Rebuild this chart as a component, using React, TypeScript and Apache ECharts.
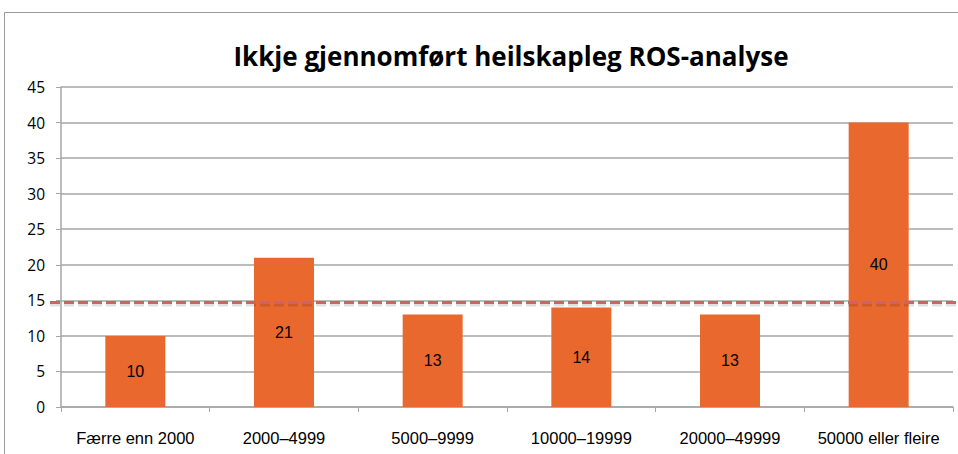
import React, { useEffect, useRef } from "react";
import * as echarts from "echarts";

const categories = ["Færre enn 2000", "2000–4999", "5000–9999", "10000–19999", "20000–49999", "50000 eller fleire"];
const values = [10, 21, 13, 14, 13, 40];
const referenceValue = 14.7;
const titleText = "Ikkje gjennomført heilskapleg ROS-analyse";

export default function App() {
  const ref = useRef<HTMLDivElement>(null);
  useEffect(() => {
    if (!ref.current) return;
    const chart = echarts.init(ref.current, null, { renderer: "svg" });
    chart.setOption({
      animation: false,
      backgroundColor: "#ffffff",
      title: {
        text: titleText,
        left: 506,
        top: 38,
        textAlign: "center",
        textStyle: { fontFamily: "Open Sans", fontWeight: "bold", fontSize: 26, color: "#000" },
      },
      grid: { left: 61, right: 5, top: 87, bottom: 47, containLabel: false },
      xAxis: {
        type: "category",
        data: categories,
        boundaryGap: true,
        axisLine: { lineStyle: { color: "#a6a6a6", width: 1.5 } },
        axisTick: { show: true, length: 5, lineStyle: { color: "#a6a6a6" } },
        axisLabel: { color: "#000", fontSize: 16.5, fontFamily: "Liberation Sans", margin: 22, interval: 0 },
      },
      yAxis: {
        type: "value",
        min: 0,
        max: 45,
        interval: 5,
        axisLine: { show: true, lineStyle: { color: "#a6a6a6", width: 1.5 } },
        axisTick: { show: true, length: 5, lineStyle: { color: "#a6a6a6" } },
        axisLabel: { color: "#000", fontSize: 15.5, fontFamily: "Open Sans", margin: 16 },
        splitLine: { lineStyle: { color: "#a6a6a6", width: 1.5 } },
      },
      series: [
        {
          type: "bar",
          data: values,
          barWidth: 60,
          itemStyle: { color: "#E8682E" },
          label: { show: true, position: "inside", color: "#000", fontSize: 16, fontFamily: "Liberation Sans" },
        },
      ],
    });
    const pt = chart.convertToPixel({ gridIndex: 0 }, [0, referenceValue]) as number[];
    const y = Array.isArray(pt) ? pt[1] : (pt as unknown as number);
    chart.setOption({
      graphic: {
        elements: [
          {
            id: "frame",
            type: "rect",
            shape: { x: 4.5, y: 12.5, width: 1200, height: 1200 },
            style: { fill: "none", stroke: "#9a9a9a", lineWidth: 1 },
            z: 1,
            silent: true,
          },
          {
            id: "refShadow",
            type: "line",
            shape: { x1: 50, y1: y + 2, x2: 958, y2: y + 2 },
            style: { stroke: "rgba(0,0,0,0.12)", lineWidth: 4, lineDash: [10, 4] },
            z: 99,
            silent: true,
          },
          {
            id: "refLine",
            type: "line",
            shape: { x1: 50, y1: y, x2: 958, y2: y },
            style: { stroke: "#d0625f", lineWidth: 3, lineDash: [10, 4] },
            z: 100,
            silent: true,
          },
        ],
      },
    });
    return () => chart.dispose();
  }, []);
  return <div ref={ref} style={{ position: "absolute", left: 0, top: 0, width: 958, height: 454 }} />;
}
